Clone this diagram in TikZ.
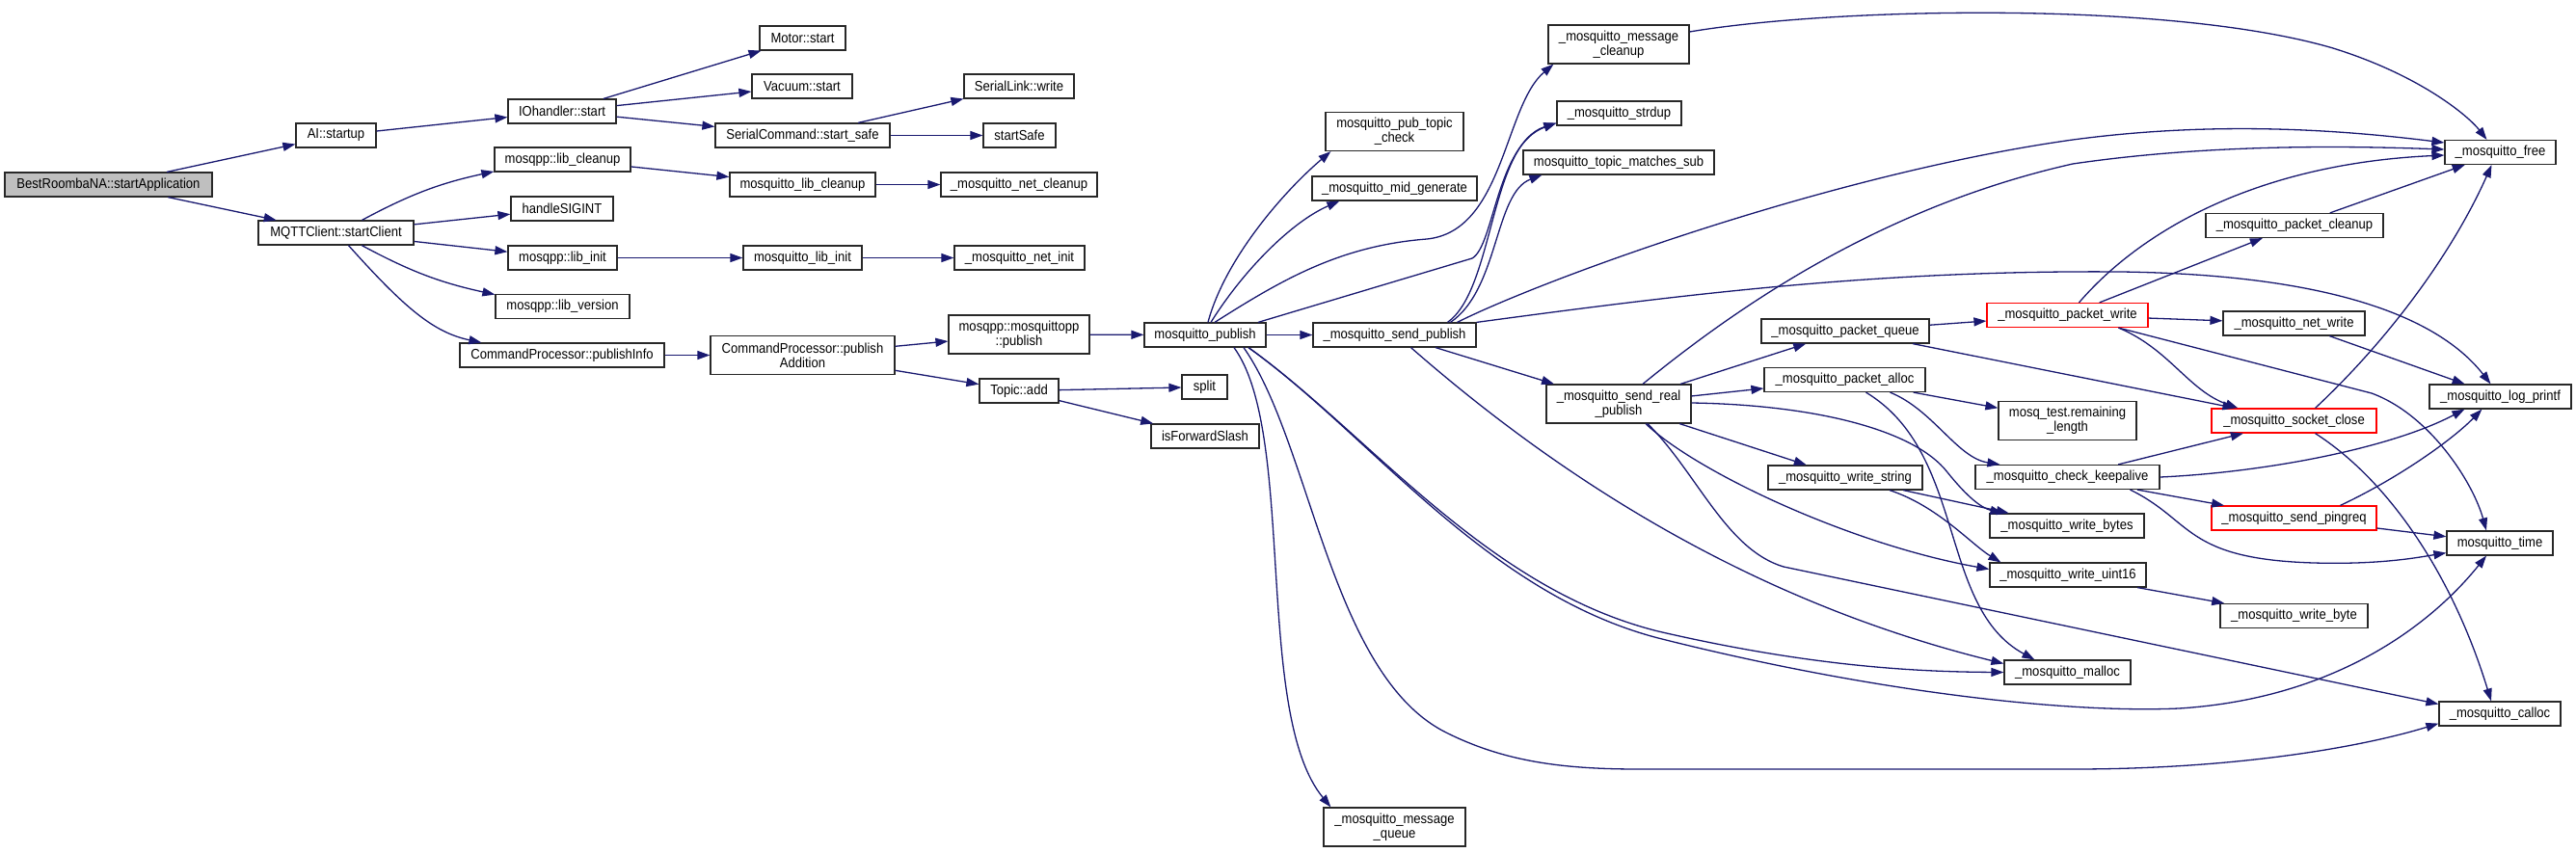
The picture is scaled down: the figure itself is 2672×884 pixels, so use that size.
\documentclass[tikz,border=0pt]{standalone}
\usepackage{fontspec}
\newfontfamily\dxfont[FakeStretch=0.9]{Liberation Sans}
\usepackage{xcolor}
\usetikzlibrary{arrows.meta}
\definecolor{EdgeBlue}{RGB}{25,25,112}
\definecolor{RootGray}{RGB}{191,191,191}
\definecolor{BoxLine}{RGB}{40,40,40}
\tikzset{
  >={Triangle[length=13pt,width=9pt]},  % punta piena
  % Nodi funzione
  fn/.style={draw=BoxLine,line width=1.2pt,rectangle,minimum height=25pt,inner sep=0pt,
    align=center,text=black,font=\dxfont\fontsize{14.5}{15}\selectfont},
  fn root/.style={fn,fill=RootGray},
  fn red/.style={fn,draw=red},
  fn two/.style={fn,minimum height=40pt},
  % Chiamate
  call/.style={->,draw=EdgeBlue,line width=1.3pt}
}

\begin{document}
\begin{tikzpicture}[x=1pt,y=1pt]
        \useasboundingbox (0,0) rectangle (2672,-884);
        % colonne 1-3
        \node[fn root, minimum width=215pt] (root) at (112.5,-191.5) {BestRoombaNA::startApplication};
        \node[fn, minimum width=83pt] (ai) at (348.5,-140.5) {AI::startup};
        \node[fn, minimum width=161pt] (client) at (348.5,-241.5) {MQTTClient::startClient};
        \node[fn, minimum width=112pt] (ioh) at (583,-115.5) {IOhandler::start};
        \node[fn, minimum width=141pt] (libclean) at (583.5,-165.5) {mosqpp::lib\_cleanup};
        \node[fn, minimum width=106pt] (sigint) at (583,-216.5) {handleSIGINT};
        \node[fn, minimum width=113pt] (libinit) at (583.5,-267.5) {mosqpp::lib\_init};
        \node[fn, minimum width=139pt] (libver) at (583.5,-318) {mosqpp::lib\_version};
        \node[fn, minimum width=212pt] (pubinfo) at (583,-368.5) {CommandProcessor::publishInfo};
        % colonne 4-5
        \node[fn, minimum width=89pt] (motor) at (832.5,-39.5) {Motor::start};
        \node[fn, minimum width=104pt] (vacuum) at (832,-89.5) {Vacuum::start};
        \node[fn, minimum width=181pt] (startsafe) at (832.5,-140.5) {SerialCommand::start\_safe};
        \node[fn, minimum width=151pt] (mlclean) at (832.5,-191.5) {mosquitto\_lib\_cleanup};
        \node[fn, minimum width=123pt] (mlinit) at (832.5,-267.5) {mosquitto\_lib\_init};
        \node[fn two, minimum width=191pt] (pubadd) at (832.5,-368.5) {CommandProcessor::publish\\Addition};
        \node[fn, minimum width=114pt] (slwrite) at (1057,-89.5) {SerialLink::write};
        \node[fn, minimum width=75pt] (ssafe) at (1057.5,-140.5) {startSafe};
        \node[fn, minimum width=162pt] (netclean) at (1057,-191.5) {\_mosquitto\_net\_cleanup};
        \node[fn, minimum width=135pt] (netinit) at (1057.5,-267.5) {\_mosquitto\_net\_init};
        \node[fn two, minimum width=146pt] (mppub) at (1057,-347) {mosqpp::mosquittopp\\::publish};
        \node[fn, minimum width=82pt] (topicadd) at (1057,-405.5) {Topic::add};
        % colonne 6-8
        \node[fn, minimum width=126pt] (mpub) at (1250,-347.5) {mosquitto\_publish};
        \node[fn, minimum width=47pt] (split) at (1249.5,-401.5) {split};
        \node[fn, minimum width=112pt] (fwdslash) at (1250,-452.5) {isForwardSlash};
        \node[fn two, minimum width=143pt] (ptcheck) at (1446.5,-136.5) {mosquitto\_pub\_topic\\\_check};
        \node[fn, minimum width=171pt] (midgen) at (1446.5,-195.5) {\_mosquitto\_mid\_generate};
        \node[fn, minimum width=169pt] (sendpub) at (1446.5,-347.5) {\_mosquitto\_send\_publish};
        \node[fn two, minimum width=147pt] (msgqueue) at (1446.5,-858) {\_mosquitto\_message\\\_queue};
        \node[fn two, minimum width=146pt] (msgclean) at (1679,-46) {\_mosquitto\_message\\\_cleanup};
        \node[fn, minimum width=129pt] (strdup) at (1679.5,-117.5) {\_mosquitto\_strdup};
        \node[fn, minimum width=198pt] (tmsub) at (1679,-168.5) {mosquitto\_topic\_matches\_sub};
        \node[fn two, minimum width=150pt] (sendreal) at (1679,-419) {\_mosquitto\_send\_real\\\_publish};
        % colonne 9-12
        \node[fn, minimum width=174pt] (pqueue) at (1914,-343.5) {\_mosquitto\_packet\_queue};
        \node[fn, minimum width=167pt] (palloc) at (1913.5,-394) {\_mosquitto\_packet\_alloc};
        \node[fn, minimum width=160pt] (wstring) at (1914,-495.5) {\_mosquitto\_write\_string};
        \node[fn red, minimum width=167pt] (pwrite) at (2144.5,-327) {\_mosquitto\_packet\_write};
        \node[fn two, minimum width=143pt] (remlen) at (2144.5,-436.5) {mosq\_test.remaining\\\_length};
        \node[fn, minimum width=191pt] (keepalive) at (2144.5,-495) {\_mosquitto\_check\_keepalive};
        \node[fn, minimum width=160pt] (wbytes) at (2144,-545.5) {\_mosquitto\_write\_bytes};
        \node[fn, minimum width=162pt] (wuint) at (2145,-596.5) {\_mosquitto\_write\_uint16};
        \node[fn, minimum width=131pt] (malloc) at (2144.5,-697.5) {\_mosquitto\_malloc};
        \node[fn, minimum width=184pt] (pclean) at (2380,-234) {\_mosquitto\_packet\_cleanup};
        \node[fn, minimum width=147pt] (netwrite) at (2379.5,-335.5) {\_mosquitto\_net\_write};
        \node[fn red, minimum width=171pt] (sockclose) at (2379.5,-436.5) {\_mosquitto\_socket\_close};
        \node[fn red, minimum width=171pt] (pingreq) at (2379.5,-537.5) {\_mosquitto\_send\_pingreq};
        \node[fn, minimum width=153pt] (wbyte) at (2379.5,-639) {\_mosquitto\_write\_byte};
        \node[fn, minimum width=115pt] (free) at (2593.5,-158) {\_mosquitto\_free};
        \node[fn, minimum width=147pt] (logprintf) at (2593.5,-411.5) {\_mosquitto\_log\_printf};
        \node[fn, minimum width=110pt] (mtime) at (2593,-563.5) {mosquitto\_time};
        \node[fn, minimum width=126pt] (calloc) at (2593,-740.5) {\_mosquitto\_calloc};

        % chiamate dirette
        \draw[call] (root) -- (ai);
        \draw[call] (root) -- (client);
        \draw[call] (ai) -- (ioh);
        \draw[call] (ioh) -- (motor);
        \draw[call] (ioh) -- (vacuum);
        \draw[call] (ioh) -- (startsafe);
        \draw[call] (startsafe) -- (slwrite);
        \draw[call] (startsafe) -- (ssafe);
        \draw[call] (client) to[bend left=8] (libclean);
        \draw[call] (client) -- (sigint);
        \draw[call] (client) -- (libinit);
        \draw[call] (client) to[bend right=8] (libver);
        \draw[call] ([xshift=13pt]client.south) .. controls (420,-320) and (450,-345) .. ([xshift=23pt]pubinfo.north west);
        \draw[call] (libclean) -- (mlclean);
        \draw[call] (mlclean) -- (netclean);
        \draw[call] (libinit) -- (mlinit);
        \draw[call] (mlinit) -- (netinit);
        \draw[call] (pubinfo) -- (pubadd);
        \draw[call] (pubadd) -- (mppub);
        \draw[call] (pubadd) -- (topicadd);
        \draw[call] (topicadd) -- (split);
        \draw[call] (topicadd) -- (fwdslash);
        \draw[call] (mppub) -- (mpub);

        % mosquitto_publish
        \draw[call] ([xshift=3pt]mpub.north) .. controls (1270,-270) and (1330,-200) .. ([xshift=6pt]ptcheck.south west);
        \draw[call] ([xshift=6pt]mpub.north) .. controls (1290,-280) and (1340,-230) .. ([xshift=29pt]midgen.south west);
        \draw[call] ([xshift=10pt]mpub.north) .. controls (1330,-290) and (1390,-255) .. (1480,-248) .. controls (1560,-240) and (1560,-110) .. ([xshift=6pt]msgclean.south west);
        \draw[call] ([xshift=55pt]mpub.north) -- (1527,-268) .. controls (1550,-255) and (1552,-150) .. ([yshift=3pt]strdup.south west);
        \draw[call] (mpub) -- (sendpub);
        \draw[call] ([xshift=30pt]mpub.south) .. controls (1345,-450) and (1300,-740) .. ([xshift=8pt]msgqueue.north west);
        \draw[call] ([xshift=40pt]mpub.south) .. controls (1360,-460) and (1380,-700) .. (1500,-760) .. controls (1560,-790) and (1620,-798) .. (1700,-798) -- (2150,-798) .. controls (2320,-798) and (2450,-775) .. ([yshift=3pt]calloc.south west);
        \draw[call] ([xshift=45pt]mpub.south) .. controls (1420,-450) and (1540,-610) .. (1720,-655) .. controls (1880,-692) and (1990,-697) .. (malloc.west);
        \draw[call] ([xshift=45pt]mpub.south) .. controls (1420,-450) and (1540,-615) .. (1720,-662) .. controls (1950,-720) and (2150,-740) .. (2260,-735) .. controls (2420,-725) and (2520,-650) .. ([xshift=-14pt]mtime.south);

        % _mosquitto_send_publish
        \draw[call] ([xshift=55pt]sendpub.north) .. controls (1550,-300) and (1545,-150) .. ([yshift=3pt]strdup.south west);
        \draw[call] ([xshift=58pt]sendpub.north) .. controls (1555,-300) and (1550,-200) .. ([xshift=20pt]tmsub.south west);
        \draw[call] ([xshift=65pt]sendpub.north) .. controls (1600,-290) and (1900,-180) .. (2150,-145) .. controls (2300,-125) and (2430,-135) .. ([yshift=10pt]free.west);
        \draw[call] (sendpub.north east) .. controls (1750,-305) and (1950,-280) .. (2200,-282) .. controls (2420,-285) and (2530,-330) .. ([xshift=-10pt]logprintf.north);
        \draw[call] (sendpub) -- (sendreal);
        \draw[call] ([xshift=17pt]sendpub.south) .. controls (1600,-480) and (1800,-620) .. ([yshift=9pt]malloc.west);
        \draw[call] ([yshift=13pt]msgclean.east) .. controls (1900,-8) and (2250,0) .. (2420,-50) .. controls (2510,-78) and (2560,-120) .. ([xshift=-14pt]free.north);

        % _mosquitto_send_real_publish
        \draw[call] ([xshift=25pt]sendreal.north) .. controls (1800,-320) and (1950,-215) .. (2150,-170) .. controls (2300,-148) and (2450,-152) .. ([yshift=3pt]free.west);
        \draw[call] (sendreal) -- (pqueue);
        \draw[call] (sendreal) -- (palloc);
        \draw[call] (sendreal) -- (wstring);
        \draw[call] ([yshift=1pt]sendreal.east) .. controls (1880,-420) and (1985,-445) .. (2020,-490) .. controls (2040,-515) and (2055,-527) .. ([xshift=14pt]wbytes.north west);
        \draw[call] ([xshift=28pt]sendreal.south) .. controls (1760,-490) and (1920,-565) .. ([yshift=6pt]wuint.west);
        \draw[call] ([xshift=30pt]sendreal.south) .. controls (1760,-490) and (1790,-570) .. (1850,-588) -- ([yshift=10pt]calloc.west);

        % pacchetti
        \draw[call] (palloc) -- (remlen);
        \draw[call] ([xshift=47pt]palloc.south) .. controls (2005,-425) and (2030,-475) .. ([xshift=26pt]keepalive.north west);
        \draw[call] ([xshift=22pt]palloc.south) .. controls (2040,-470) and (2010,-630) .. ([xshift=32pt]malloc.north west);
        \draw[call] (pqueue) -- (pwrite);
        \draw[call] ([xshift=70pt]pqueue.south) -- ([xshift=25pt]sockclose.north west);
        \draw[call] (wstring) -- (wbytes);
        \draw[call] ([xshift=46pt]wstring.south) .. controls (2010,-525) and (2045,-565) .. ([xshift=12pt]wuint.north west);
        \draw[call] ([xshift=12pt]pwrite.north) .. controls (2220,-240) and (2340,-170) .. ([yshift=-3pt]free.west);
        \draw[call] (pwrite) -- (pclean);
        \draw[call] (pwrite) -- (netwrite);
        \draw[call] ([xshift=53pt]pwrite.south) .. controls (2250,-362) and (2270,-405) .. ([xshift=28pt]sockclose.north west);
        \draw[call] ([xshift=53pt]pwrite.south) -- (2460,-408) .. controls (2520,-430) and (2565,-500) .. ([xshift=-14pt]mtime.north);
        \draw[call] (pclean) -- (free);
        \draw[call] (netwrite) -- (logprintf);
        \draw[call] ([xshift=22pt]sockclose.north) .. controls (2480,-350) and (2545,-260) .. ([xshift=-9pt]free.south);
        \draw[call] ([xshift=22pt]sockclose.south) .. controls (2480,-500) and (2545,-600) .. ([xshift=-9pt]calloc.north);
        \draw[call] (keepalive) -- (sockclose);
        \draw[call] (keepalive.east) .. controls (2350,-490) and (2480,-465) .. ([xshift=37pt]logprintf.south west);
        \draw[call] (keepalive) -- (pingreq);
        \draw[call] ([xshift=65pt]keepalive.south) .. controls (2275,-540) and (2265,-580) .. (2400,-584) .. controls (2470,-586) and (2510,-578) .. ([yshift=3pt]mtime.south west);
        \draw[call] ([xshift=48pt]pingreq.north) .. controls (2490,-495) and (2545,-455) .. ([xshift=55pt]logprintf.south west);
        \draw[call] (pingreq) -- (mtime);
        \draw[call] (wuint) -- (wbyte);
      \end{tikzpicture}
\end{document}
